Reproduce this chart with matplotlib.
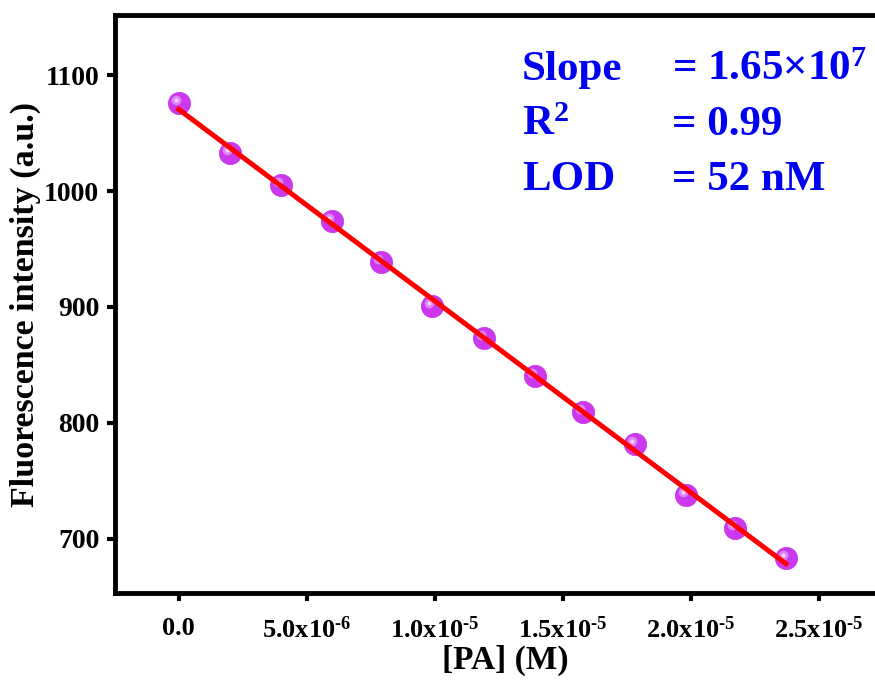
import numpy as np
import matplotlib.pyplot as plt
from matplotlib.transforms import offset_copy

# Data
conc = np.array([0.0, 2.0, 4.0, 6.0, 7.9, 9.9, 11.9, 13.9, 15.8, 17.8, 19.8, 21.7, 23.7]) * 1e-6
intensity = np.array([1076, 1033, 1005, 974, 939, 901, 873, 840, 809, 782, 738, 709, 683])

xticks = [0.0, 5e-6, 1e-5, 1.5e-5, 2e-5, 2.5e-5]
xtick_labels = ['0.0', r'5.0x10$^{\text{-6}}$', r'1.0x10$^{\text{-5}}$',
                r'1.5x10$^{\text{-5}}$', r'2.0x10$^{\text{-5}}$', r'2.5x10$^{\text{-5}}$']
yticks = [700, 800, 900, 1000, 1100]

plt.rcParams['font.family'] = 'Liberation Serif'
plt.rcParams['font.weight'] = 'bold'
plt.rcParams['mathtext.fontset'] = 'custom'
plt.rcParams['mathtext.rm'] = 'Liberation Serif:bold'
plt.rcParams['mathtext.bf'] = 'Liberation Serif:bold'
plt.rcParams['mathtext.it'] = 'Liberation Serif:bold'

fig = plt.figure(figsize=(8.75, 6.82), dpi=100)
ax = fig.add_axes([0.131, 0.1305, 0.893, 0.8475])

# linear fit
slope, icpt = np.polyfit(conc, intensity, 1)
xfit = np.array([conc[0], conc[-1]])

# spheres: base + highlight
ax.plot(conc, intensity, 'o', ms=16, color='#CC38EE', mec='#C030E8', mew=0.5, zorder=3)
hl = offset_copy(ax.transData, fig=fig, x=-3, y=3, units='dots')
ax.plot(conc, intensity, 'o', ms=7, color='#E08CF6', mew=0, alpha=0.9, zorder=4, transform=hl)
ax.plot(conc, intensity, 'o', ms=3, color='#F4D0FB', mew=0, zorder=4, transform=hl)
ax.plot(xfit, slope * xfit + icpt, color='#FF0000', lw=3.6, zorder=5)

ax.set_xlim(-2.5e-6, 2.8e-5)
ax.set_ylim(653, 1152)
ax.set_xticks(xticks)
ax.set_xticklabels(xtick_labels, fontsize=19, fontweight='bold')
ax.set_yticks(yticks)
ax.set_yticklabels([str(t) for t in yticks], fontsize=20, fontweight='bold')

for s in ['left', 'bottom', 'top']:
    ax.spines[s].set_linewidth(3.5)
ax.spines['right'].set_visible(False)
ax.tick_params(direction='out', length=6, width=3, pad=5)
ax.tick_params(axis='x', pad=11)

ax.set_xlabel('[PA] (M)', fontsize=24, fontweight='bold', labelpad=1)
ax.set_ylabel('Fluorescence intensity (a.u.)', fontsize=24.5, fontweight='bold')
ax.yaxis.set_label_coords(-0.094, 0.5)

blue = '#0000F0'
rows = [('Slope', '= 1.65×10$^{7}$'), ('R$^{2}$', '= 0.99'), ('LOD', '= 52 nM')]
for i, (k, v) in enumerate(rows):
    y = 1096 - i * 47.4
    ax.text(1.34e-5, y, k, fontsize=31, color=blue, fontweight='bold', va='baseline')
    ax.text(1.926e-5, y, v, fontsize=31, color=blue, fontweight='bold', va='baseline')

fig.savefig('out.png', dpi=100)
